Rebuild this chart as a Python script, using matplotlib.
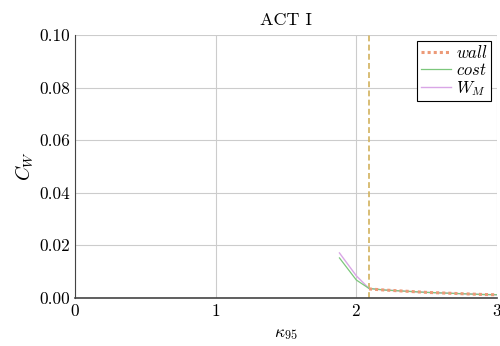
import matplotlib
matplotlib.use("Agg")
import matplotlib.pyplot as plt

# data
kappa_wall = [2.09, 2.2, 2.3, 2.4, 2.5, 2.6, 2.7, 2.8, 2.9, 3.0]
wall = [0.0034, 0.0030, 0.0027, 0.0024, 0.0021, 0.0019, 0.0017, 0.0015, 0.0013, 0.0012]

kappa_cost = [1.88, 2.0, 2.09, 2.2, 2.3, 2.4, 2.5, 2.6, 2.7, 2.8, 2.9, 3.0]
cost = [0.0152, 0.0068, 0.0036, 0.0030, 0.0027, 0.0024, 0.0021, 0.0019, 0.0017, 0.0015, 0.0013, 0.0012]
w_m = [0.0171, 0.0084, 0.0036, 0.0030, 0.0027, 0.0024, 0.0021, 0.0019, 0.0017, 0.0015, 0.0013, 0.0012]

kappa_mark = 2.09

plt.rcParams.update({
    "font.family": "serif",
    "font.serif": ["cmr10"],
    "mathtext.fontset": "cm",
    "axes.formatter.use_mathtext": True,
    "axes.unicode_minus": False,
    "font.size": 12,
})

fig, ax = plt.subplots(figsize=(5.0, 3.46), dpi=100)
fig.subplots_adjust(left=0.15, right=0.994, top=0.899, bottom=0.139)

ax.plot(kappa_cost, w_m, color="#d9a6e6", linewidth=1.0, label=r"$W_M$", zorder=3)
ax.plot(kappa_cost, cost, color="#7cc77c", linewidth=0.9, label=r"$cost$", zorder=3)
ax.plot(kappa_wall, wall, color="#ec9a78", linewidth=2.2, linestyle=(0, (1, 1)),
        label=r"$wall$", zorder=4)
ax.axvline(kappa_mark, color="#d2b25e", linewidth=1.2, linestyle=(0, (3.5, 2)), zorder=2)

ax.set_xlim(0, 3)
ax.set_ylim(0, 0.1)
ax.set_xticks([0, 1, 2, 3])
ax.set_yticks([0, 0.02, 0.04, 0.06, 0.08, 0.10])
ax.set_yticklabels(["0.00", "0.02", "0.04", "0.06", "0.08", "0.10"])
ax.grid(True, color="#cccccc", linewidth=0.8)
ax.set_axisbelow(True)
ax.tick_params(length=0, labelsize=12.5)
ax.spines["top"].set_visible(False)
ax.spines["right"].set_visible(False)
ax.spines["left"].set_color("#444444")
ax.spines["bottom"].set_color("#444444")
ax.spines["bottom"].set_linewidth(1.2)

ax.set_title("ACT I", fontsize=13, pad=7)
ax.set_xlabel(r"$\kappa_{95}$", fontsize=12.5, labelpad=6)
ax.set_ylabel(r"$C_W$", fontsize=14, labelpad=2)

handles, labels = ax.get_legend_handles_labels()
order = [2, 1, 0]
leg = ax.legend([handles[i] for i in order], [labels[i] for i in order],
                loc="upper right", fontsize=12, fancybox=False, framealpha=1,
                edgecolor="black", handlelength=1.8, borderpad=0.2,
                labelspacing=0.05, handletextpad=0.3, borderaxespad=0.35)
leg.get_frame().set_linewidth(0.8)

fig.savefig("out.png", dpi=100)
